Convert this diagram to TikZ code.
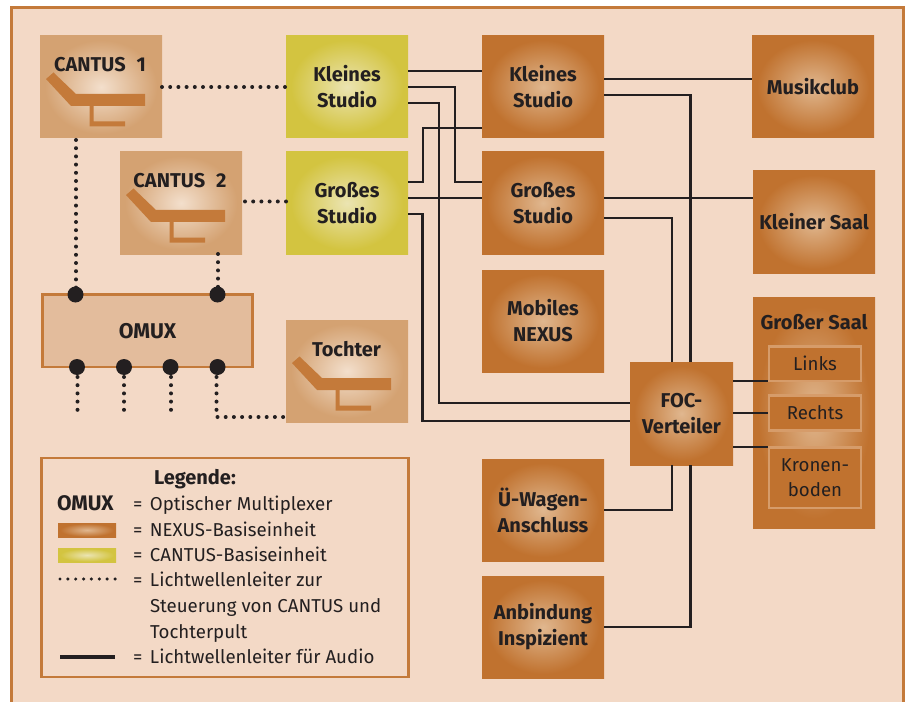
\documentclass[tikz,border=0pt]{standalone}
\usepackage{fontspec}
\setmainfont{Fira Sans}
\definecolor{bgc}{HTML}{F3D9C6}
\definecolor{framec}{HTML}{C47A3A}
\definecolor{orangec}{HTML}{C0722F}
\definecolor{orangei}{HTML}{E0B78F}
\definecolor{tanc}{HTML}{D4A272}
\definecolor{tani}{HTML}{F3DFCC}
\definecolor{yelc}{HTML}{D3C440}
\definecolor{yeli}{HTML}{EBE4B2}
\definecolor{omuxc}{HTML}{E3BC9C}
\definecolor{partc}{HTML}{D69C6A}
\definecolor{inkc}{HTML}{231F20}
\pgfdeclareradialshading{orangeglow}{\pgfpointorigin}{color(0bp)=(orangei); color(23bp)=(orangec); color(50bp)=(orangec)}
\pgfdeclareradialshading{yelglow}{\pgfpointorigin}{color(0bp)=(yeli); color(23bp)=(yelc); color(50bp)=(yelc)}
\pgfdeclareradialshading{tanglow}{\pgfpointorigin}{color(0bp)=(tani); color(23bp)=(tanc); color(50bp)=(tanc)}
\tikzset{
  x=0.75pt,y=-0.75pt,
  boxbase/.style={inner sep=0,outer sep=0,minimum width=91.5pt,minimum height=76.5pt,anchor=north west,align=center,font=\fontsize{15pt}{19.5pt}\selectfont\bfseries,text=inkc},
  nexus/.style={boxbase,shading=orangeglow},
  cantus/.style={boxbase,shading=yelglow},
  pult/.style={boxbase,shading=tanglow},
  audio/.style={draw=inkc,line width=2.1pt,line join=miter},
  ctrl/.style={draw=inkc,line width=3pt,line cap=round,dash pattern=on 0pt off 6.15pt},
  blob/.style={circle,fill=inkc,minimum size=12pt,inner sep=0,outer sep=0},
  part/.style={draw=partc,line width=2pt,fill=orangec,inner sep=0,outer sep=0,minimum width=69pt,anchor=north west,align=center,text=inkc,font=\fontsize{14pt}{19pt}\selectfont},
  lgd/.style={inner sep=0,outer sep=0,anchor=base west,text=inkc,font=\fontsize{14pt}{15pt}\selectfont},
  ttl/.style={inner sep=0,outer sep=0,text=inkc,font=\fontsize{15pt}{18pt}\selectfont\bfseries},
  chair/.style={fill=framec,draw=none}
}
\newcommand{\chairat}[1]{%
  \fill[chair,shift={#1}] (6,43)--(13.5,36.5)--(36,58)--(105,58)--(105,70)--(31,70)--cycle;
  \fill[chair,shift={#1}] (49.5,70)--(53.5,70)--(53.5,85.5)--(85,85.5)--(85,90.5)--(49.5,90.5)--cycle;
}
\newcommand{\eqs}{\makebox[12.75pt][l]{=}}
\begin{document}
\begin{tikzpicture}
\useasboundingbox (0,0) rectangle (909,702);
\fill[white] (0,0) rectangle (909,702);
\fill[bgc] (11,7) rectangle (903.7,702);
\draw[framec,line width=2pt] (11.4,702) -- (11.4,7.7) -- (903.7,7.7) -- (903.7,702);

% boxes
\node[pult] (c1) at (40,36) {};
\node[pult] (c2) at (120,152) {};
\node[pult] (toc) at (286,320) {};
\node[cantus] (yk) at (286,36) {Kleines\\Studio};
\node[cantus] (yg) at (286,152) {Großes\\Studio};
\node[nexus] (ok) at (482,36) {Kleines\\Studio};
\node[nexus] (og) at (482,152) {Großes\\Studio};
\node[nexus] (mn) at (482,270) {Mobiles\\NEXUS};
\node[nexus] (uw) at (482,459) {Ü-Wagen-\\Anschluss};
\node[nexus] (ai) at (482,576) {Anbindung\\Inspizient};
\node[nexus] (mc) at (752,36) {Musikclub};
\node[nexus] (ks) at (753,171) {Kleiner Saal};
\node[nexus,minimum height=173.25pt] (gs) at (753,297) {};
\node[nexus,minimum width=77.25pt,minimum height=77.25pt] (foc) at (630,362) {FOC-\\Verteiler};
\node[ttl] (gst) at (814,322) {Großer Saal};
\node[part,minimum height=26pt] (li) at (769,346.3) {Links};
\node[part,minimum height=26.5pt] (re) at (769,395.3) {Rechts};
\node[part,minimum height=45.5pt] (kb) at (769,447.3) {Kronen-\\boden};

\node[draw=framec,line width=1.9pt,fill=omuxc,inner sep=0,outer sep=0,minimum width=157.5pt,minimum height=54.5pt,anchor=north west,text=inkc,font=\fontsize{16pt}{18pt}\selectfont\bfseries] (om) at (42.5,294.5) {OMUX};

% chairs and titles
\chairat{(40,36)}
\chairat{(120,152)}
\chairat{(286,320)}
\node[ttl] (t1) at (100,65) {CANTUS\hspace{0.55em}1};
\node[ttl] (t2) at (180,181) {CANTUS\hspace{0.55em}2};
\node[ttl] (t3) at (346.5,349.5) {Tochter};

% audio
\draw[audio] (yk.east |- 0,71) -- (ok.west |- 0,71);
\draw[audio] (yk.east |- 0,87) -| (455,182) -- (og.west |- 0,182);
\draw[audio] (yk.east |- 0,103) -| (439,403) -- (foc.west |- 0,403);
\draw[audio] (yg.east |- 0,182) -| (423,128) -- (ok.west |- 0,128);
\draw[audio] (yg.east |- 0,198) -- (og.west |- 0,198);
\draw[audio] (yg.east |- 0,214) -| (422.5,421) -- (foc.west |- 0,421);
\draw[audio] (ok.east |- 0,79) -- (mc.west |- 0,79);
\draw[audio] (ok.east |- 0,95) -| (690.5,362);
\draw[audio] (og.east |- 0,198) -- (ks.west |- 0,198);
\draw[audio] (og.east |- 0,218) -| (672,362);
\draw[audio] (uw.east |- 0,510) -| (672,465);
\draw[audio] (ai.east |- 0,627) -| (690.5,465);
\draw[audio] (foc.east |- 0,381) -- (768,381);
\draw[audio] (foc.east |- 0,413) -- (768,413);
\draw[audio] (foc.east |- 0,447) -- (768,447);

% control
\draw[ctrl] (c1.east |- 0,87) -- (yk.west |- 0,87);
\draw[ctrl] (c2.east |- 0,201.5) ++(3,0) -- (yg.west |- 0,201.5);
\draw[ctrl] (76,140) -- (76,290);
\draw[ctrl] (218,254) -- (218,290);
\coordinate (f1) at (77.5,417);
\coordinate (f2) at (124,417);
\coordinate (f3) at (171,417);
\draw[ctrl] (77.5,377) -- (f1);
\draw[ctrl] (124,377) -- (f2);
\draw[ctrl] (171,377) -- (f3);
\draw[ctrl] (216.5,377) -- (216.5,417) -- (toc.west |- 0,417);
\node[blob] (b1) at (75.5,294.5) {};
\node[blob] (b2) at (217.5,294.5) {};
\node[blob] (b3) at (77,367) {};
\node[blob] (b4) at (124,367) {};
\node[blob] (b5) at (170.5,367) {};
\node[blob] (b6) at (217.5,367) {};

% legend
\node[draw=framec,line width=1.9pt,inner sep=0,outer sep=0,minimum width=275.25pt,minimum height=164.25pt,anchor=north west] (lg) at (41.5,458) {};
\node[lgd,font=\fontsize{15pt}{15pt}\selectfont\bfseries] (l0) at (154,484) {Legende:};
\node[lgd,font=\fontsize{15.8pt}{15pt}\selectfont\bfseries] (l1a) at (57,510) {OMUX};
\node[lgd] (l1) at (133,510) {\eqs Optischer Multiplexer};
\node[boxbase,minimum width=43.5pt,minimum height=10.5pt,shading=orangeglow] (s1) at (58,523) {};
\node[lgd] (l2) at (133,536) {\eqs NEXUS-Basiseinheit};
\node[boxbase,minimum width=43.5pt,minimum height=10.5pt,shading=yelglow] (s2) at (58,548) {};
\node[lgd] (l3) at (133,561) {\eqs CANTUS-Basiseinheit};
\coordinate (d1) at (60,579);
\coordinate (d2) at (116,579);
\draw[draw=inkc,line width=2.6pt,line cap=round,dash pattern=on 0pt off 5.9pt] (d1) -- (d2);
\node[lgd] (l4) at (133,586.5) {\eqs Lichtwellenleiter zur};
\node[lgd] (l5) at (150,612) {Steuerung von CANTUS und};
\node[lgd] (l6) at (150,638) {Tochterpult};
\coordinate (d3) at (60,657);
\coordinate (d4) at (115,657);
\draw[draw=inkc,line width=3.2pt] (d3) -- (d4);
\node[lgd] (l7) at (133,663) {\eqs Lichtwellenleiter für Audio};
\end{tikzpicture}
\end{document}
